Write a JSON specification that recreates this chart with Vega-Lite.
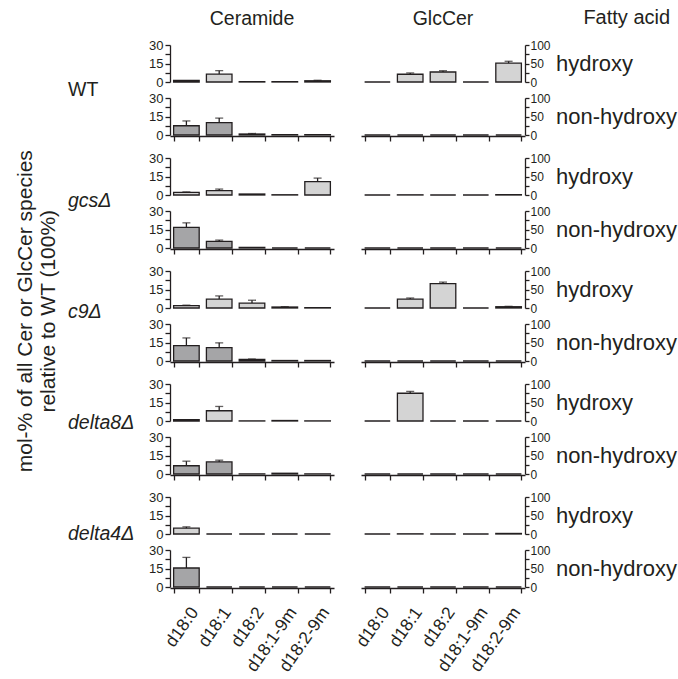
{
  "$schema": "https://vega.github.io/schema/vega-lite/v6.json",
  "padding": {"left": 2, "top": 8, "right": 0, "bottom": 0},
  "data": {"values": [
    {"g":"WT","lip":"Ceramide","fa":"hydroxy","sp":"d18:0","v":1.2},
    {"g":"WT","lip":"Ceramide","fa":"hydroxy","sp":"d18:1","v":6.4,"hi":9.2},
    {"g":"WT","lip":"Ceramide","fa":"hydroxy","sp":"d18:2","v":0.3},
    {"g":"WT","lip":"Ceramide","fa":"hydroxy","sp":"d18:1-9m","v":0.3},
    {"g":"WT","lip":"Ceramide","fa":"hydroxy","sp":"d18:2-9m","v":1.0,"hi":1.4},
    {"g":"WT","lip":"Ceramide","fa":"non-hydroxy","sp":"d18:0","v":7.5,"hi":11.4},
    {"g":"WT","lip":"Ceramide","fa":"non-hydroxy","sp":"d18:1","v":10,"hi":13.7},
    {"g":"WT","lip":"Ceramide","fa":"non-hydroxy","sp":"d18:2","v":0.8,"hi":1.2},
    {"g":"WT","lip":"Ceramide","fa":"non-hydroxy","sp":"d18:1-9m","v":0.3},
    {"g":"WT","lip":"Ceramide","fa":"non-hydroxy","sp":"d18:2-9m","v":0.3},
    {"g":"gcs","lip":"Ceramide","fa":"hydroxy","sp":"d18:0","v":2.2,"hi":2.5},
    {"g":"gcs","lip":"Ceramide","fa":"hydroxy","sp":"d18:1","v":3.6,"hi":4.8},
    {"g":"gcs","lip":"Ceramide","fa":"hydroxy","sp":"d18:2","v":0.8},
    {"g":"gcs","lip":"Ceramide","fa":"hydroxy","sp":"d18:1-9m","v":0.2},
    {"g":"gcs","lip":"Ceramide","fa":"hydroxy","sp":"d18:2-9m","v":10.9,"hi":13.7},
    {"g":"gcs","lip":"Ceramide","fa":"non-hydroxy","sp":"d18:0","v":16.8,"hi":20.4},
    {"g":"gcs","lip":"Ceramide","fa":"non-hydroxy","sp":"d18:1","v":5.3,"hi":6.4},
    {"g":"gcs","lip":"Ceramide","fa":"non-hydroxy","sp":"d18:2","v":0.5},
    {"g":"gcs","lip":"Ceramide","fa":"non-hydroxy","sp":"d18:1-9m","v":0},
    {"g":"gcs","lip":"Ceramide","fa":"non-hydroxy","sp":"d18:2-9m","v":0},
    {"g":"c9","lip":"Ceramide","fa":"hydroxy","sp":"d18:0","v":2.0,"hi":2.3},
    {"g":"c9","lip":"Ceramide","fa":"hydroxy","sp":"d18:1","v":7.2,"hi":9.8},
    {"g":"c9","lip":"Ceramide","fa":"hydroxy","sp":"d18:2","v":4.0,"hi":6.3},
    {"g":"c9","lip":"Ceramide","fa":"hydroxy","sp":"d18:1-9m","v":0.8,"hi":1.1},
    {"g":"c9","lip":"Ceramide","fa":"hydroxy","sp":"d18:2-9m","v":0.3},
    {"g":"c9","lip":"Ceramide","fa":"non-hydroxy","sp":"d18:0","v":12.5,"hi":18.7},
    {"g":"c9","lip":"Ceramide","fa":"non-hydroxy","sp":"d18:1","v":10.8,"hi":14.7},
    {"g":"c9","lip":"Ceramide","fa":"non-hydroxy","sp":"d18:2","v":1.2,"hi":1.6},
    {"g":"c9","lip":"Ceramide","fa":"non-hydroxy","sp":"d18:1-9m","v":0.4},
    {"g":"c9","lip":"Ceramide","fa":"non-hydroxy","sp":"d18:2-9m","v":0.4},
    {"g":"delta8","lip":"Ceramide","fa":"hydroxy","sp":"d18:0","v":1.1},
    {"g":"delta8","lip":"Ceramide","fa":"hydroxy","sp":"d18:1","v":8.3,"hi":11.8},
    {"g":"delta8","lip":"Ceramide","fa":"hydroxy","sp":"d18:2","v":0.1},
    {"g":"delta8","lip":"Ceramide","fa":"hydroxy","sp":"d18:1-9m","v":0.4},
    {"g":"delta8","lip":"Ceramide","fa":"hydroxy","sp":"d18:2-9m","v":0.1},
    {"g":"delta8","lip":"Ceramide","fa":"non-hydroxy","sp":"d18:0","v":6.7,"hi":10.4},
    {"g":"delta8","lip":"Ceramide","fa":"non-hydroxy","sp":"d18:1","v":9.8,"hi":11.2},
    {"g":"delta8","lip":"Ceramide","fa":"non-hydroxy","sp":"d18:2","v":0.1},
    {"g":"delta8","lip":"Ceramide","fa":"non-hydroxy","sp":"d18:1-9m","v":0.6},
    {"g":"delta8","lip":"Ceramide","fa":"non-hydroxy","sp":"d18:2-9m","v":0.1},
    {"g":"delta4","lip":"Ceramide","fa":"hydroxy","sp":"d18:0","v":4.7,"hi":5.8},
    {"g":"delta4","lip":"Ceramide","fa":"hydroxy","sp":"d18:1","v":0},
    {"g":"delta4","lip":"Ceramide","fa":"hydroxy","sp":"d18:2","v":0},
    {"g":"delta4","lip":"Ceramide","fa":"hydroxy","sp":"d18:1-9m","v":0},
    {"g":"delta4","lip":"Ceramide","fa":"hydroxy","sp":"d18:2-9m","v":0},
    {"g":"delta4","lip":"Ceramide","fa":"non-hydroxy","sp":"d18:0","v":15.4,"hi":24},
    {"g":"delta4","lip":"Ceramide","fa":"non-hydroxy","sp":"d18:1","v":0},
    {"g":"delta4","lip":"Ceramide","fa":"non-hydroxy","sp":"d18:2","v":0},
    {"g":"delta4","lip":"Ceramide","fa":"non-hydroxy","sp":"d18:1-9m","v":0},
    {"g":"delta4","lip":"Ceramide","fa":"non-hydroxy","sp":"d18:2-9m","v":0},
    {"g":"WT","lip":"GlcCer","fa":"hydroxy","sp":"d18:0","v":0},
    {"g":"WT","lip":"GlcCer","fa":"hydroxy","sp":"d18:1","v":21,"hi":24.5},
    {"g":"WT","lip":"GlcCer","fa":"hydroxy","sp":"d18:2","v":27,"hi":30.5},
    {"g":"WT","lip":"GlcCer","fa":"hydroxy","sp":"d18:1-9m","v":0},
    {"g":"WT","lip":"GlcCer","fa":"hydroxy","sp":"d18:2-9m","v":51,"hi":56},
    {"g":"WT","lip":"GlcCer","fa":"non-hydroxy","sp":"d18:0","v":0},
    {"g":"WT","lip":"GlcCer","fa":"non-hydroxy","sp":"d18:1","v":0},
    {"g":"WT","lip":"GlcCer","fa":"non-hydroxy","sp":"d18:2","v":0},
    {"g":"WT","lip":"GlcCer","fa":"non-hydroxy","sp":"d18:1-9m","v":0},
    {"g":"WT","lip":"GlcCer","fa":"non-hydroxy","sp":"d18:2-9m","v":0},
    {"g":"gcs","lip":"GlcCer","fa":"hydroxy","sp":"d18:0","v":0},
    {"g":"gcs","lip":"GlcCer","fa":"hydroxy","sp":"d18:1","v":0.5},
    {"g":"gcs","lip":"GlcCer","fa":"hydroxy","sp":"d18:2","v":0},
    {"g":"gcs","lip":"GlcCer","fa":"hydroxy","sp":"d18:1-9m","v":0},
    {"g":"gcs","lip":"GlcCer","fa":"hydroxy","sp":"d18:2-9m","v":1},
    {"g":"gcs","lip":"GlcCer","fa":"non-hydroxy","sp":"d18:0","v":0},
    {"g":"gcs","lip":"GlcCer","fa":"non-hydroxy","sp":"d18:1","v":0},
    {"g":"gcs","lip":"GlcCer","fa":"non-hydroxy","sp":"d18:2","v":0},
    {"g":"gcs","lip":"GlcCer","fa":"non-hydroxy","sp":"d18:1-9m","v":0},
    {"g":"gcs","lip":"GlcCer","fa":"non-hydroxy","sp":"d18:2-9m","v":0},
    {"g":"c9","lip":"GlcCer","fa":"hydroxy","sp":"d18:0","v":0},
    {"g":"c9","lip":"GlcCer","fa":"hydroxy","sp":"d18:1","v":24,"hi":27},
    {"g":"c9","lip":"GlcCer","fa":"hydroxy","sp":"d18:2","v":66,"hi":70},
    {"g":"c9","lip":"GlcCer","fa":"hydroxy","sp":"d18:1-9m","v":0},
    {"g":"c9","lip":"GlcCer","fa":"hydroxy","sp":"d18:2-9m","v":3.5,"hi":4.5},
    {"g":"c9","lip":"GlcCer","fa":"non-hydroxy","sp":"d18:0","v":0},
    {"g":"c9","lip":"GlcCer","fa":"non-hydroxy","sp":"d18:1","v":0},
    {"g":"c9","lip":"GlcCer","fa":"non-hydroxy","sp":"d18:2","v":0},
    {"g":"c9","lip":"GlcCer","fa":"non-hydroxy","sp":"d18:1-9m","v":0},
    {"g":"c9","lip":"GlcCer","fa":"non-hydroxy","sp":"d18:2-9m","v":0},
    {"g":"delta8","lip":"GlcCer","fa":"hydroxy","sp":"d18:0","v":0},
    {"g":"delta8","lip":"GlcCer","fa":"hydroxy","sp":"d18:1","v":75,"hi":80},
    {"g":"delta8","lip":"GlcCer","fa":"hydroxy","sp":"d18:2","v":0},
    {"g":"delta8","lip":"GlcCer","fa":"hydroxy","sp":"d18:1-9m","v":0},
    {"g":"delta8","lip":"GlcCer","fa":"hydroxy","sp":"d18:2-9m","v":0},
    {"g":"delta8","lip":"GlcCer","fa":"non-hydroxy","sp":"d18:0","v":0},
    {"g":"delta8","lip":"GlcCer","fa":"non-hydroxy","sp":"d18:1","v":0},
    {"g":"delta8","lip":"GlcCer","fa":"non-hydroxy","sp":"d18:2","v":0},
    {"g":"delta8","lip":"GlcCer","fa":"non-hydroxy","sp":"d18:1-9m","v":0},
    {"g":"delta8","lip":"GlcCer","fa":"non-hydroxy","sp":"d18:2-9m","v":0},
    {"g":"delta4","lip":"GlcCer","fa":"hydroxy","sp":"d18:0","v":0},
    {"g":"delta4","lip":"GlcCer","fa":"hydroxy","sp":"d18:1","v":0.5},
    {"g":"delta4","lip":"GlcCer","fa":"hydroxy","sp":"d18:2","v":0},
    {"g":"delta4","lip":"GlcCer","fa":"hydroxy","sp":"d18:1-9m","v":0},
    {"g":"delta4","lip":"GlcCer","fa":"hydroxy","sp":"d18:2-9m","v":1.5},
    {"g":"delta4","lip":"GlcCer","fa":"non-hydroxy","sp":"d18:0","v":0},
    {"g":"delta4","lip":"GlcCer","fa":"non-hydroxy","sp":"d18:1","v":0},
    {"g":"delta4","lip":"GlcCer","fa":"non-hydroxy","sp":"d18:2","v":0},
    {"g":"delta4","lip":"GlcCer","fa":"non-hydroxy","sp":"d18:1-9m","v":0},
    {"g":"delta4","lip":"GlcCer","fa":"non-hydroxy","sp":"d18:2-9m","v":0}
  ]},
  "title": {"text": ["mol-% of all Cer or GlcCer species", "relative to WT (100%)"], "orient": "left", "anchor": "middle", "fontSize": 21, "lineHeight": 23, "offset": -57, "dx": 30},
  "hconcat": [
    {"vconcat": [
      {"width": 132, "height": 89, "data": {"values": [{"label": "WT"}]}, "mark": {"type": "text", "align": "left", "baseline": "middle", "fontSize": 19.5, "color": "#231f20"}, "encoding": {"text": {"field": "label", "type": "nominal"}}},
      {"width": 132, "height": 89, "data": {"values": [{"label": "gcsΔ"}]}, "mark": {"type": "text", "align": "left", "baseline": "middle", "fontSize": 19.5, "fontStyle": "italic", "color": "#231f20"}, "encoding": {"text": {"field": "label", "type": "nominal"}}},
      {"width": 132, "height": 89, "data": {"values": [{"label": "c9Δ"}]}, "mark": {"type": "text", "align": "left", "baseline": "middle", "fontSize": 19.5, "fontStyle": "italic", "color": "#231f20"}, "encoding": {"text": {"field": "label", "type": "nominal"}}},
      {"width": 132, "height": 89, "data": {"values": [{"label": "delta8Δ"}]}, "mark": {"type": "text", "align": "left", "baseline": "middle", "fontSize": 19.5, "fontStyle": "italic", "color": "#231f20"}, "encoding": {"text": {"field": "label", "type": "nominal"}}},
      {"width": 132, "height": 89, "data": {"values": [{"label": "delta4Δ"}]}, "mark": {"type": "text", "align": "left", "baseline": "middle", "fontSize": 19.5, "fontStyle": "italic", "color": "#231f20"}, "encoding": {"text": {"field": "label", "type": "nominal"}}}
    ], "spacing": 22},
    {"hconcat": [
    {"vconcat": [
      {"transform": [{"filter": "datum.g === 'WT' && datum.lip === 'Ceramide'"}],
       "facet": {"row": {"field": "fa", "type": "nominal", "sort": ["hydroxy", "non-hydroxy"], "header": {"labels": false, "title": null}},
                 "column": {"field": "lip", "type": "nominal", "header": {"title": null, "labelPadding": 16}}},
       "spacing": {"row": 15, "column": 0},
       "spec": {"width": 164, "height": 37, "layer": [
         {"mark": {"type": "bar", "stroke": "#231f20", "strokeWidth": 1.3},
          "encoding": {"x": {"field": "sp", "type": "nominal", "sort": ["d18:0","d18:1","d18:2","d18:1-9m","d18:2-9m"], "scale": {"paddingInner": 0.22, "paddingOuter": 0.11}, "axis": {"labels": false}},
                       "y": {"field": "v", "type": "quantitative", "scale": {"domain": [0, 30]}, "axis": {"orient": "left", "values": [0, 7.5, 15, 22.5, 30], "labelExpr": "datum.value % 15 === 0 ? datum.label : ''"}},
                       "fill": {"field": "fa", "type": "nominal", "scale": {"domain": ["hydroxy", "non-hydroxy"], "range": ["#d4d4d4", "#a5a5a7"]}, "legend": null}}},
         {"transform": [{"filter": "isValid(datum.hi)"}], "mark": {"type": "rule", "color": "#231f20", "strokeWidth": 1.3},
          "encoding": {"x": {"field": "sp", "type": "nominal", "sort": ["d18:0","d18:1","d18:2","d18:1-9m","d18:2-9m"], "axis": {"labels": false}},
                       "y": {"field": "v", "type": "quantitative", "scale": {"domain": [0, 30]}, "axis": {"orient": "left", "values": [0, 7.5, 15, 22.5, 30], "labelExpr": "datum.value % 15 === 0 ? datum.label : ''"}},
                       "y2": {"field": "hi"}}},
         {"transform": [{"filter": "isValid(datum.hi)"}], "mark": {"type": "tick", "color": "#231f20", "thickness": 1.3, "size": 8},
          "encoding": {"x": {"field": "sp", "type": "nominal", "sort": ["d18:0","d18:1","d18:2","d18:1-9m","d18:2-9m"], "axis": {"labels": false}},
                       "y": {"field": "hi", "type": "quantitative", "scale": {"domain": [0, 30]}, "axis": {"orient": "left", "values": [0, 7.5, 15, 22.5, 30], "labelExpr": "datum.value % 15 === 0 ? datum.label : ''"}}}}
       ]}},
      {"transform": [{"filter": "datum.g === 'gcs' && datum.lip === 'Ceramide'"}],
       "facet": {"row": {"field": "fa", "type": "nominal", "sort": ["hydroxy", "non-hydroxy"], "header": {"labels": false, "title": null}}},
       "spacing": {"row": 15},
       "spec": {"width": 164, "height": 37, "layer": [
         {"mark": {"type": "bar", "stroke": "#231f20", "strokeWidth": 1.3},
          "encoding": {"x": {"field": "sp", "type": "nominal", "sort": ["d18:0","d18:1","d18:2","d18:1-9m","d18:2-9m"], "scale": {"paddingInner": 0.22, "paddingOuter": 0.11}, "axis": {"labels": false}},
                       "y": {"field": "v", "type": "quantitative", "scale": {"domain": [0, 30]}, "axis": {"orient": "left", "values": [0, 7.5, 15, 22.5, 30], "labelExpr": "datum.value % 15 === 0 ? datum.label : ''"}},
                       "fill": {"field": "fa", "type": "nominal", "scale": {"domain": ["hydroxy", "non-hydroxy"], "range": ["#d4d4d4", "#a5a5a7"]}, "legend": null}}},
         {"transform": [{"filter": "isValid(datum.hi)"}], "mark": {"type": "rule", "color": "#231f20", "strokeWidth": 1.3},
          "encoding": {"x": {"field": "sp", "type": "nominal", "sort": ["d18:0","d18:1","d18:2","d18:1-9m","d18:2-9m"], "axis": {"labels": false}},
                       "y": {"field": "v", "type": "quantitative", "scale": {"domain": [0, 30]}, "axis": {"orient": "left", "values": [0, 7.5, 15, 22.5, 30], "labelExpr": "datum.value % 15 === 0 ? datum.label : ''"}},
                       "y2": {"field": "hi"}}},
         {"transform": [{"filter": "isValid(datum.hi)"}], "mark": {"type": "tick", "color": "#231f20", "thickness": 1.3, "size": 8},
          "encoding": {"x": {"field": "sp", "type": "nominal", "sort": ["d18:0","d18:1","d18:2","d18:1-9m","d18:2-9m"], "axis": {"labels": false}},
                       "y": {"field": "hi", "type": "quantitative", "scale": {"domain": [0, 30]}, "axis": {"orient": "left", "values": [0, 7.5, 15, 22.5, 30], "labelExpr": "datum.value % 15 === 0 ? datum.label : ''"}}}}
       ]}},
      {"transform": [{"filter": "datum.g === 'c9' && datum.lip === 'Ceramide'"}],
       "facet": {"row": {"field": "fa", "type": "nominal", "sort": ["hydroxy", "non-hydroxy"], "header": {"labels": false, "title": null}}},
       "spacing": {"row": 15},
       "spec": {"width": 164, "height": 37, "layer": [
         {"mark": {"type": "bar", "stroke": "#231f20", "strokeWidth": 1.3},
          "encoding": {"x": {"field": "sp", "type": "nominal", "sort": ["d18:0","d18:1","d18:2","d18:1-9m","d18:2-9m"], "scale": {"paddingInner": 0.22, "paddingOuter": 0.11}, "axis": {"labels": false}},
                       "y": {"field": "v", "type": "quantitative", "scale": {"domain": [0, 30]}, "axis": {"orient": "left", "values": [0, 7.5, 15, 22.5, 30], "labelExpr": "datum.value % 15 === 0 ? datum.label : ''"}},
                       "fill": {"field": "fa", "type": "nominal", "scale": {"domain": ["hydroxy", "non-hydroxy"], "range": ["#d4d4d4", "#a5a5a7"]}, "legend": null}}},
         {"transform": [{"filter": "isValid(datum.hi)"}], "mark": {"type": "rule", "color": "#231f20", "strokeWidth": 1.3},
          "encoding": {"x": {"field": "sp", "type": "nominal", "sort": ["d18:0","d18:1","d18:2","d18:1-9m","d18:2-9m"], "axis": {"labels": false}},
                       "y": {"field": "v", "type": "quantitative", "scale": {"domain": [0, 30]}, "axis": {"orient": "left", "values": [0, 7.5, 15, 22.5, 30], "labelExpr": "datum.value % 15 === 0 ? datum.label : ''"}},
                       "y2": {"field": "hi"}}},
         {"transform": [{"filter": "isValid(datum.hi)"}], "mark": {"type": "tick", "color": "#231f20", "thickness": 1.3, "size": 8},
          "encoding": {"x": {"field": "sp", "type": "nominal", "sort": ["d18:0","d18:1","d18:2","d18:1-9m","d18:2-9m"], "axis": {"labels": false}},
                       "y": {"field": "hi", "type": "quantitative", "scale": {"domain": [0, 30]}, "axis": {"orient": "left", "values": [0, 7.5, 15, 22.5, 30], "labelExpr": "datum.value % 15 === 0 ? datum.label : ''"}}}}
       ]}},
      {"transform": [{"filter": "datum.g === 'delta8' && datum.lip === 'Ceramide'"}],
       "facet": {"row": {"field": "fa", "type": "nominal", "sort": ["hydroxy", "non-hydroxy"], "header": {"labels": false, "title": null}}},
       "spacing": {"row": 15},
       "spec": {"width": 164, "height": 37, "layer": [
         {"mark": {"type": "bar", "stroke": "#231f20", "strokeWidth": 1.3},
          "encoding": {"x": {"field": "sp", "type": "nominal", "sort": ["d18:0","d18:1","d18:2","d18:1-9m","d18:2-9m"], "scale": {"paddingInner": 0.22, "paddingOuter": 0.11}, "axis": {"labels": false}},
                       "y": {"field": "v", "type": "quantitative", "scale": {"domain": [0, 30]}, "axis": {"orient": "left", "values": [0, 7.5, 15, 22.5, 30], "labelExpr": "datum.value % 15 === 0 ? datum.label : ''"}},
                       "fill": {"field": "fa", "type": "nominal", "scale": {"domain": ["hydroxy", "non-hydroxy"], "range": ["#d4d4d4", "#a5a5a7"]}, "legend": null}}},
         {"transform": [{"filter": "isValid(datum.hi)"}], "mark": {"type": "rule", "color": "#231f20", "strokeWidth": 1.3},
          "encoding": {"x": {"field": "sp", "type": "nominal", "sort": ["d18:0","d18:1","d18:2","d18:1-9m","d18:2-9m"], "axis": {"labels": false}},
                       "y": {"field": "v", "type": "quantitative", "scale": {"domain": [0, 30]}, "axis": {"orient": "left", "values": [0, 7.5, 15, 22.5, 30], "labelExpr": "datum.value % 15 === 0 ? datum.label : ''"}},
                       "y2": {"field": "hi"}}},
         {"transform": [{"filter": "isValid(datum.hi)"}], "mark": {"type": "tick", "color": "#231f20", "thickness": 1.3, "size": 8},
          "encoding": {"x": {"field": "sp", "type": "nominal", "sort": ["d18:0","d18:1","d18:2","d18:1-9m","d18:2-9m"], "axis": {"labels": false}},
                       "y": {"field": "hi", "type": "quantitative", "scale": {"domain": [0, 30]}, "axis": {"orient": "left", "values": [0, 7.5, 15, 22.5, 30], "labelExpr": "datum.value % 15 === 0 ? datum.label : ''"}}}}
       ]}},
      {"transform": [{"filter": "datum.g === 'delta4' && datum.lip === 'Ceramide'"}],
       "facet": {"row": {"field": "fa", "type": "nominal", "sort": ["hydroxy", "non-hydroxy"], "header": {"labels": false, "title": null}}},
       "spacing": {"row": 15},
       "spec": {"width": 164, "height": 37, "layer": [
         {"mark": {"type": "bar", "stroke": "#231f20", "strokeWidth": 1.3},
          "encoding": {"x": {"field": "sp", "type": "nominal", "sort": ["d18:0","d18:1","d18:2","d18:1-9m","d18:2-9m"], "scale": {"paddingInner": 0.22, "paddingOuter": 0.11}, "axis": {"labels": true}},
                       "y": {"field": "v", "type": "quantitative", "scale": {"domain": [0, 30]}, "axis": {"orient": "left", "values": [0, 7.5, 15, 22.5, 30], "labelExpr": "datum.value % 15 === 0 ? datum.label : ''"}},
                       "fill": {"field": "fa", "type": "nominal", "scale": {"domain": ["hydroxy", "non-hydroxy"], "range": ["#d4d4d4", "#a5a5a7"]}, "legend": null}}},
         {"transform": [{"filter": "isValid(datum.hi)"}], "mark": {"type": "rule", "color": "#231f20", "strokeWidth": 1.3},
          "encoding": {"x": {"field": "sp", "type": "nominal", "sort": ["d18:0","d18:1","d18:2","d18:1-9m","d18:2-9m"], "axis": {"labels": true}},
                       "y": {"field": "v", "type": "quantitative", "scale": {"domain": [0, 30]}, "axis": {"orient": "left", "values": [0, 7.5, 15, 22.5, 30], "labelExpr": "datum.value % 15 === 0 ? datum.label : ''"}},
                       "y2": {"field": "hi"}}},
         {"transform": [{"filter": "isValid(datum.hi)"}], "mark": {"type": "tick", "color": "#231f20", "thickness": 1.3, "size": 8},
          "encoding": {"x": {"field": "sp", "type": "nominal", "sort": ["d18:0","d18:1","d18:2","d18:1-9m","d18:2-9m"], "axis": {"labels": true}},
                       "y": {"field": "hi", "type": "quantitative", "scale": {"domain": [0, 30]}, "axis": {"orient": "left", "values": [0, 7.5, 15, 22.5, 30], "labelExpr": "datum.value % 15 === 0 ? datum.label : ''"}}}}
       ]}}
    ], "spacing": 10},
    {"title": {"text": "Fatty acid", "anchor": "end", "offset": -19.5, "dx": -7, "fontSize": 20},
     "vconcat": [
      {"transform": [{"filter": "datum.g === 'WT' && datum.lip === 'GlcCer'"}],
       "facet": {"row": {"field": "fa", "type": "nominal", "sort": ["hydroxy", "non-hydroxy"], "header": {"title": null, "labelOrient": "right", "labelAngle": 0, "labelAlign": "right", "labelBaseline": "middle", "labelPadding": 6, "labelFontSize": 22}},
                 "column": {"field": "lip", "type": "nominal", "header": {"title": null, "labelPadding": 16}}},
       "spacing": {"row": 15, "column": 0},
       "spec": {"width": 164, "height": 37, "layer": [
         {"mark": {"type": "bar", "stroke": "#231f20", "strokeWidth": 1.3},
          "encoding": {"x": {"field": "sp", "type": "nominal", "sort": ["d18:0","d18:1","d18:2","d18:1-9m","d18:2-9m"], "scale": {"paddingInner": 0.22, "paddingOuter": 0.11}, "axis": {"labels": false}},
                       "y": {"field": "v", "type": "quantitative", "scale": {"domain": [0, 100]}, "axis": {"orient": "right", "values": [0, 25, 50, 75, 100], "labelExpr": "datum.value % 50 === 0 ? datum.label : ''", "labelFontSize": 12, "tickSize": 4, "labelPadding": 1}},
                       "fill": {"field": "fa", "type": "nominal", "scale": {"domain": ["hydroxy", "non-hydroxy"], "range": ["#d4d4d4", "#a5a5a7"]}, "legend": null}}},
         {"transform": [{"filter": "isValid(datum.hi)"}], "mark": {"type": "rule", "color": "#231f20", "strokeWidth": 1.3},
          "encoding": {"x": {"field": "sp", "type": "nominal", "sort": ["d18:0","d18:1","d18:2","d18:1-9m","d18:2-9m"], "axis": {"labels": false}},
                       "y": {"field": "v", "type": "quantitative", "scale": {"domain": [0, 100]}, "axis": {"orient": "right", "values": [0, 25, 50, 75, 100], "labelExpr": "datum.value % 50 === 0 ? datum.label : ''", "labelFontSize": 12, "tickSize": 4, "labelPadding": 1}},
                       "y2": {"field": "hi"}}},
         {"transform": [{"filter": "isValid(datum.hi)"}], "mark": {"type": "tick", "color": "#231f20", "thickness": 1.3, "size": 8},
          "encoding": {"x": {"field": "sp", "type": "nominal", "sort": ["d18:0","d18:1","d18:2","d18:1-9m","d18:2-9m"], "axis": {"labels": false}},
                       "y": {"field": "hi", "type": "quantitative", "scale": {"domain": [0, 100]}, "axis": {"orient": "right", "values": [0, 25, 50, 75, 100], "labelExpr": "datum.value % 50 === 0 ? datum.label : ''", "labelFontSize": 12, "tickSize": 4, "labelPadding": 1}}}}
       ]}},
      {"transform": [{"filter": "datum.g === 'gcs' && datum.lip === 'GlcCer'"}],
       "facet": {"row": {"field": "fa", "type": "nominal", "sort": ["hydroxy", "non-hydroxy"], "header": {"title": null, "labelOrient": "right", "labelAngle": 0, "labelAlign": "right", "labelBaseline": "middle", "labelPadding": 6, "labelFontSize": 22}}},
       "spacing": {"row": 15},
       "spec": {"width": 164, "height": 37, "layer": [
         {"mark": {"type": "bar", "stroke": "#231f20", "strokeWidth": 1.3},
          "encoding": {"x": {"field": "sp", "type": "nominal", "sort": ["d18:0","d18:1","d18:2","d18:1-9m","d18:2-9m"], "scale": {"paddingInner": 0.22, "paddingOuter": 0.11}, "axis": {"labels": false}},
                       "y": {"field": "v", "type": "quantitative", "scale": {"domain": [0, 100]}, "axis": {"orient": "right", "values": [0, 25, 50, 75, 100], "labelExpr": "datum.value % 50 === 0 ? datum.label : ''", "labelFontSize": 12, "tickSize": 4, "labelPadding": 1}},
                       "fill": {"field": "fa", "type": "nominal", "scale": {"domain": ["hydroxy", "non-hydroxy"], "range": ["#d4d4d4", "#a5a5a7"]}, "legend": null}}},
         {"transform": [{"filter": "isValid(datum.hi)"}], "mark": {"type": "rule", "color": "#231f20", "strokeWidth": 1.3},
          "encoding": {"x": {"field": "sp", "type": "nominal", "sort": ["d18:0","d18:1","d18:2","d18:1-9m","d18:2-9m"], "axis": {"labels": false}},
                       "y": {"field": "v", "type": "quantitative", "scale": {"domain": [0, 100]}, "axis": {"orient": "right", "values": [0, 25, 50, 75, 100], "labelExpr": "datum.value % 50 === 0 ? datum.label : ''", "labelFontSize": 12, "tickSize": 4, "labelPadding": 1}},
                       "y2": {"field": "hi"}}},
         {"transform": [{"filter": "isValid(datum.hi)"}], "mark": {"type": "tick", "color": "#231f20", "thickness": 1.3, "size": 8},
          "encoding": {"x": {"field": "sp", "type": "nominal", "sort": ["d18:0","d18:1","d18:2","d18:1-9m","d18:2-9m"], "axis": {"labels": false}},
                       "y": {"field": "hi", "type": "quantitative", "scale": {"domain": [0, 100]}, "axis": {"orient": "right", "values": [0, 25, 50, 75, 100], "labelExpr": "datum.value % 50 === 0 ? datum.label : ''", "labelFontSize": 12, "tickSize": 4, "labelPadding": 1}}}}
       ]}},
      {"transform": [{"filter": "datum.g === 'c9' && datum.lip === 'GlcCer'"}],
       "facet": {"row": {"field": "fa", "type": "nominal", "sort": ["hydroxy", "non-hydroxy"], "header": {"title": null, "labelOrient": "right", "labelAngle": 0, "labelAlign": "right", "labelBaseline": "middle", "labelPadding": 6, "labelFontSize": 22}}},
       "spacing": {"row": 15},
       "spec": {"width": 164, "height": 37, "layer": [
         {"mark": {"type": "bar", "stroke": "#231f20", "strokeWidth": 1.3},
          "encoding": {"x": {"field": "sp", "type": "nominal", "sort": ["d18:0","d18:1","d18:2","d18:1-9m","d18:2-9m"], "scale": {"paddingInner": 0.22, "paddingOuter": 0.11}, "axis": {"labels": false}},
                       "y": {"field": "v", "type": "quantitative", "scale": {"domain": [0, 100]}, "axis": {"orient": "right", "values": [0, 25, 50, 75, 100], "labelExpr": "datum.value % 50 === 0 ? datum.label : ''", "labelFontSize": 12, "tickSize": 4, "labelPadding": 1}},
                       "fill": {"field": "fa", "type": "nominal", "scale": {"domain": ["hydroxy", "non-hydroxy"], "range": ["#d4d4d4", "#a5a5a7"]}, "legend": null}}},
         {"transform": [{"filter": "isValid(datum.hi)"}], "mark": {"type": "rule", "color": "#231f20", "strokeWidth": 1.3},
          "encoding": {"x": {"field": "sp", "type": "nominal", "sort": ["d18:0","d18:1","d18:2","d18:1-9m","d18:2-9m"], "axis": {"labels": false}},
                       "y": {"field": "v", "type": "quantitative", "scale": {"domain": [0, 100]}, "axis": {"orient": "right", "values": [0, 25, 50, 75, 100], "labelExpr": "datum.value % 50 === 0 ? datum.label : ''", "labelFontSize": 12, "tickSize": 4, "labelPadding": 1}},
                       "y2": {"field": "hi"}}},
         {"transform": [{"filter": "isValid(datum.hi)"}], "mark": {"type": "tick", "color": "#231f20", "thickness": 1.3, "size": 8},
          "encoding": {"x": {"field": "sp", "type": "nominal", "sort": ["d18:0","d18:1","d18:2","d18:1-9m","d18:2-9m"], "axis": {"labels": false}},
                       "y": {"field": "hi", "type": "quantitative", "scale": {"domain": [0, 100]}, "axis": {"orient": "right", "values": [0, 25, 50, 75, 100], "labelExpr": "datum.value % 50 === 0 ? datum.label : ''", "labelFontSize": 12, "tickSize": 4, "labelPadding": 1}}}}
       ]}},
      {"transform": [{"filter": "datum.g === 'delta8' && datum.lip === 'GlcCer'"}],
       "facet": {"row": {"field": "fa", "type": "nominal", "sort": ["hydroxy", "non-hydroxy"], "header": {"title": null, "labelOrient": "right", "labelAngle": 0, "labelAlign": "right", "labelBaseline": "middle", "labelPadding": 6, "labelFontSize": 22}}},
       "spacing": {"row": 15},
       "spec": {"width": 164, "height": 37, "layer": [
         {"mark": {"type": "bar", "stroke": "#231f20", "strokeWidth": 1.3},
          "encoding": {"x": {"field": "sp", "type": "nominal", "sort": ["d18:0","d18:1","d18:2","d18:1-9m","d18:2-9m"], "scale": {"paddingInner": 0.22, "paddingOuter": 0.11}, "axis": {"labels": false}},
                       "y": {"field": "v", "type": "quantitative", "scale": {"domain": [0, 100]}, "axis": {"orient": "right", "values": [0, 25, 50, 75, 100], "labelExpr": "datum.value % 50 === 0 ? datum.label : ''", "labelFontSize": 12, "tickSize": 4, "labelPadding": 1}},
                       "fill": {"field": "fa", "type": "nominal", "scale": {"domain": ["hydroxy", "non-hydroxy"], "range": ["#d4d4d4", "#a5a5a7"]}, "legend": null}}},
         {"transform": [{"filter": "isValid(datum.hi)"}], "mark": {"type": "rule", "color": "#231f20", "strokeWidth": 1.3},
          "encoding": {"x": {"field": "sp", "type": "nominal", "sort": ["d18:0","d18:1","d18:2","d18:1-9m","d18:2-9m"], "axis": {"labels": false}},
                       "y": {"field": "v", "type": "quantitative", "scale": {"domain": [0, 100]}, "axis": {"orient": "right", "values": [0, 25, 50, 75, 100], "labelExpr": "datum.value % 50 === 0 ? datum.label : ''", "labelFontSize": 12, "tickSize": 4, "labelPadding": 1}},
                       "y2": {"field": "hi"}}},
         {"transform": [{"filter": "isValid(datum.hi)"}], "mark": {"type": "tick", "color": "#231f20", "thickness": 1.3, "size": 8},
          "encoding": {"x": {"field": "sp", "type": "nominal", "sort": ["d18:0","d18:1","d18:2","d18:1-9m","d18:2-9m"], "axis": {"labels": false}},
                       "y": {"field": "hi", "type": "quantitative", "scale": {"domain": [0, 100]}, "axis": {"orient": "right", "values": [0, 25, 50, 75, 100], "labelExpr": "datum.value % 50 === 0 ? datum.label : ''", "labelFontSize": 12, "tickSize": 4, "labelPadding": 1}}}}
       ]}},
      {"transform": [{"filter": "datum.g === 'delta4' && datum.lip === 'GlcCer'"}],
       "facet": {"row": {"field": "fa", "type": "nominal", "sort": ["hydroxy", "non-hydroxy"], "header": {"title": null, "labelOrient": "right", "labelAngle": 0, "labelAlign": "right", "labelBaseline": "middle", "labelPadding": 6, "labelFontSize": 22}}},
       "spacing": {"row": 15},
       "spec": {"width": 164, "height": 37, "layer": [
         {"mark": {"type": "bar", "stroke": "#231f20", "strokeWidth": 1.3},
          "encoding": {"x": {"field": "sp", "type": "nominal", "sort": ["d18:0","d18:1","d18:2","d18:1-9m","d18:2-9m"], "scale": {"paddingInner": 0.22, "paddingOuter": 0.11}, "axis": {"labels": true}},
                       "y": {"field": "v", "type": "quantitative", "scale": {"domain": [0, 100]}, "axis": {"orient": "right", "values": [0, 25, 50, 75, 100], "labelExpr": "datum.value % 50 === 0 ? datum.label : ''", "labelFontSize": 12, "tickSize": 4, "labelPadding": 1}},
                       "fill": {"field": "fa", "type": "nominal", "scale": {"domain": ["hydroxy", "non-hydroxy"], "range": ["#d4d4d4", "#a5a5a7"]}, "legend": null}}},
         {"transform": [{"filter": "isValid(datum.hi)"}], "mark": {"type": "rule", "color": "#231f20", "strokeWidth": 1.3},
          "encoding": {"x": {"field": "sp", "type": "nominal", "sort": ["d18:0","d18:1","d18:2","d18:1-9m","d18:2-9m"], "axis": {"labels": true}},
                       "y": {"field": "v", "type": "quantitative", "scale": {"domain": [0, 100]}, "axis": {"orient": "right", "values": [0, 25, 50, 75, 100], "labelExpr": "datum.value % 50 === 0 ? datum.label : ''", "labelFontSize": 12, "tickSize": 4, "labelPadding": 1}},
                       "y2": {"field": "hi"}}},
         {"transform": [{"filter": "isValid(datum.hi)"}], "mark": {"type": "tick", "color": "#231f20", "thickness": 1.3, "size": 8},
          "encoding": {"x": {"field": "sp", "type": "nominal", "sort": ["d18:0","d18:1","d18:2","d18:1-9m","d18:2-9m"], "axis": {"labels": true}},
                       "y": {"field": "hi", "type": "quantitative", "scale": {"domain": [0, 100]}, "axis": {"orient": "right", "values": [0, 25, 50, 75, 100], "labelExpr": "datum.value % 50 === 0 ? datum.label : ''", "labelFontSize": 12, "tickSize": 4, "labelPadding": 1}}}}
       ]}}
    ], "spacing": 10}
    ], "spacing": 18}
  ],
  "spacing": 13,
  "config": {
    "font": "Liberation Sans",
    "view": {"stroke": null},
    "text": {"font": "Liberation Sans"},
    "title": {"fontSize": 19.5, "fontWeight": "normal", "color": "#231f20", "font": "Liberation Sans"},
    "header": {"labelFontSize": 19.5, "labelColor": "#231f20", "labelFont": "Liberation Sans", "titleFontSize": 19},
    "axis": {"title": null, "grid": false, "labelOverlap": false, "domainColor": "#231f20", "tickColor": "#231f20", "labelColor": "#231f20", "domainWidth": 1.3, "tickWidth": 1.3, "labelFont": "Liberation Sans"},
    "axisX": {"tickBand": "extent", "tickSize": 5, "labelAngle": -55, "labelAlign": "right", "labelBaseline": "middle", "labelFontSize": 17.5, "labelPadding": 16, "labelOffset": 8},
    "axisY": {"tickSize": 5, "labelFontSize": 13, "labelPadding": 2, "labelFlush": false}
  }
}
